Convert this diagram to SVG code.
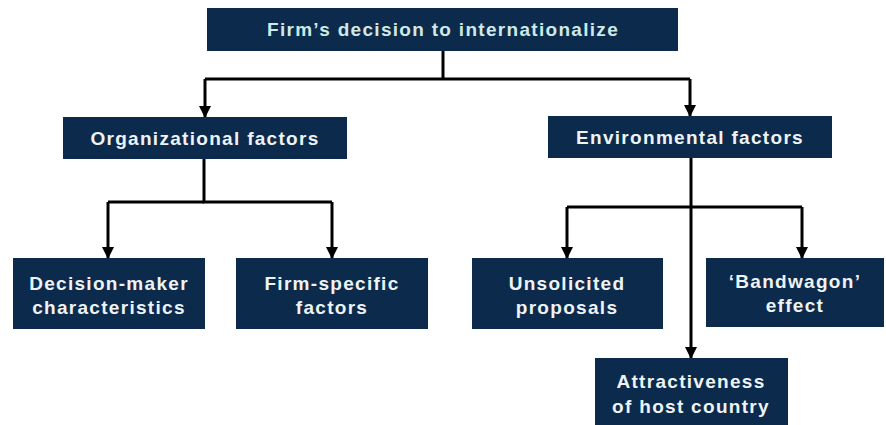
<svg xmlns="http://www.w3.org/2000/svg" width="886" height="425" viewBox="0 0 886 425">
<defs>
<marker id="ah" viewBox="0 0 12 12" refX="11" refY="6" markerWidth="12" markerHeight="12" markerUnits="userSpaceOnUse" orient="auto">
<path d="M0,0 L12,6 L0,12 Z" fill="#000"/>
</marker>
</defs>
<style>
.box{fill:#0c2a4b;}
.t{font-family:"Liberation Sans",Arial,sans-serif;font-size:19px;font-weight:bold;fill:#eef3f5;text-anchor:middle;letter-spacing:1.3px;}
.top{fill:#cfe9e7;}
.c{fill:none;stroke:#000;stroke-width:3;}
</style>
<rect width="886" height="425" fill="#fff"/>
<g id="connectors">
<path class="c" d="M443,51 V79"/>
<path class="c" d="M205,79 H690"/>
<path class="c" d="M205,79 V117" marker-end="url(#ah)"/>
<path class="c" d="M690,79 V116" marker-end="url(#ah)"/>
<path class="c" d="M204,159 V202 H332"/>
<path class="c" d="M108,202 H204"/>
<path class="c" d="M108,202 V258" marker-end="url(#ah)"/>
<path class="c" d="M332,202 V258" marker-end="url(#ah)"/>
<path class="c" d="M691,158 V358" marker-end="url(#ah)"/>
<path class="c" d="M567,207 H802"/>
<path class="c" d="M567,207 V258" marker-end="url(#ah)"/>
<path class="c" d="M802,207 V258" marker-end="url(#ah)"/>
</g>
<g id="n-top"><rect class="box" x="207" y="8" width="471" height="43"/><text class="t top" x="443" y="36">Firm’s decision to internationalize</text></g>
<g id="n-org"><rect class="box" x="63" y="117" width="284" height="42"/><text class="t" x="205" y="145">Organizational factors</text></g>
<g id="n-env"><rect class="box" x="548" y="116" width="284" height="42"/><text class="t" x="690" y="144">Environmental factors</text></g>
<g id="n-dm"><rect class="box" x="13" y="258" width="192" height="71"/><text class="t" x="109" y="290">Decision-maker</text><text class="t" x="109" y="314">characteristics</text></g>
<g id="n-fs"><rect class="box" x="236" y="258" width="192" height="71"/><text class="t" x="332" y="290">Firm-specific</text><text class="t" x="332" y="314">factors</text></g>
<g id="n-up"><rect class="box" x="472" y="258" width="191" height="71"/><text class="t" x="567" y="290">Unsolicited</text><text class="t" x="567" y="314">proposals</text></g>
<g id="n-bw"><rect class="box" x="706" y="258" width="178" height="69"/><text class="t" x="795" y="288">‘Bandwagon’</text><text class="t" x="795" y="312">effect</text></g>
<g id="n-ah"><rect class="box" x="595" y="358" width="193" height="67"/><text class="t" x="691" y="388">Attractiveness</text><text class="t" x="691" y="413">of host country</text></g>
</svg>
